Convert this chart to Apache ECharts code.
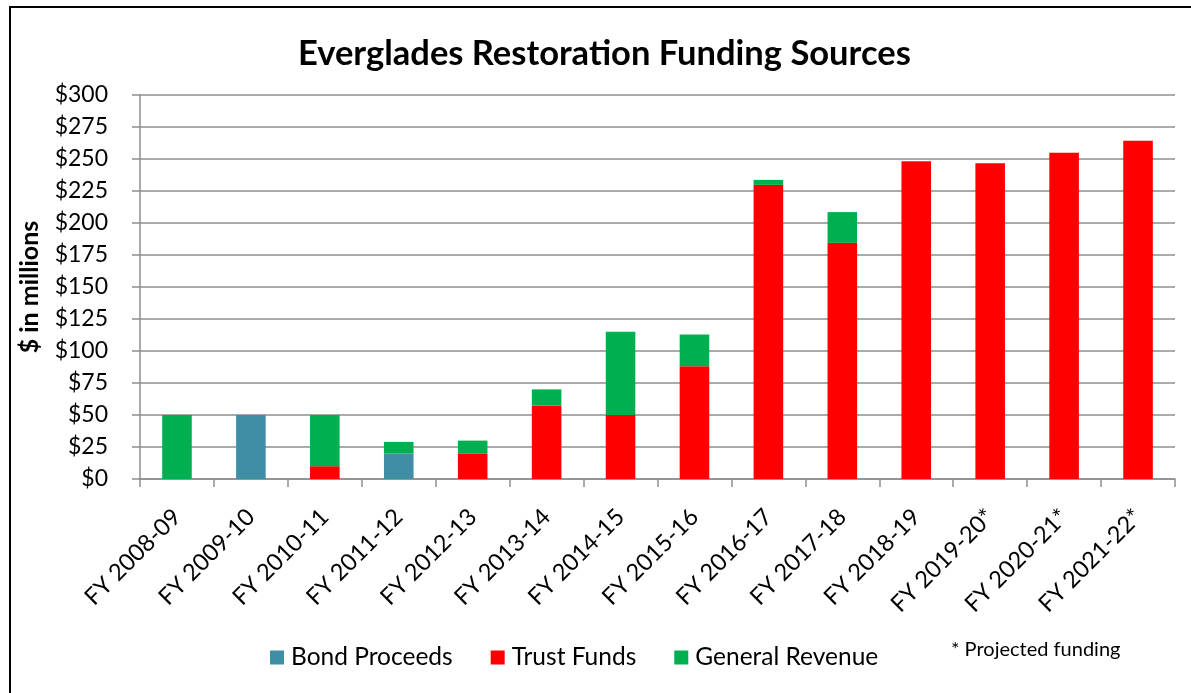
<!DOCTYPE html>
<html>
<head>
<meta charset="utf-8">
<script src="https://cdn.jsdelivr.net/npm/echarts@6/dist/echarts.min.js"></script>
<style>
html,body{margin:0;padding:0;background:#fff;}
#chart{width:1191px;height:693px;}
</style>
</head>
<body>
<div id="chart"></div>
<script>
const categories = ['FY 2008-09','FY 2009-10','FY 2010-11','FY 2011-12','FY 2012-13','FY 2013-14','FY 2014-15','FY 2015-16','FY 2016-17','FY 2017-18','FY 2018-19','FY 2019-20*','FY 2020-21*','FY 2021-22*'];
const bondProceeds   = [0, 50, 0, 20, 0, 0, 0, 0, 0, 0, 0, 0, 0, 0];
const trustFunds     = [0, 0, 10, 0, 20, 57.5, 50, 88, 229.8, 184.5, 248.3, 246.7, 254.8, 264.2];
const generalRevenue = [50, 0, 40, 9, 10, 12.5, 65, 24.8, 3.9, 24, 0, 0, 0, 0];
const yTicks = { min: 0, max: 300, interval: 25 };

const FONT = 'Lato';
const chart = echarts.init(document.getElementById('chart'), null, {renderer: 'canvas'});
const axisGray = '#8e8e8e';
chart.setOption({
  animation: false,
  backgroundColor: '#ffffff',
  textStyle: { fontFamily: FONT, color: '#000' },
  title: {
    text: 'Everglades Restoration Funding Sources',
    left: 293, top: 31,
    textStyle: { fontFamily: FONT, fontWeight: 'bold', fontSize: 34.5, color: '#000' }
  },
  legend: {
    left: 265, top: 640,
    itemWidth: 14, itemHeight: 14, itemGap: 38,
    icon: 'rect',
    textStyle: { fontFamily: FONT, fontSize: 24.5, color: '#000', padding: [0,0,0,2] },
    data: ['Bond Proceeds', 'Trust Funds', 'General Revenue']
  },
  grid: { left: 140, right: 16, top: 95, bottom: 214, containLabel: false, outerBoundsMode: 'none' },
  xAxis: {
    type: 'category',
    data: categories,
    axisLine: { lineStyle: { color: axisGray, width: 1.5 } },
    axisTick: { show: true, length: 8, lineStyle: { color: axisGray, width: 1.5 } },
    axisLabel: { rotate: 45, fontSize: 23.5, color: '#000', margin: 34, interval: 0, fontFamily: FONT }
  },
  yAxis: {
    type: 'value',
    min: yTicks.min, max: yTicks.max, interval: yTicks.interval,
    name: '$ in millions',
    nameLocation: 'middle', nameGap: 98,
    nameTextStyle: { fontFamily: FONT, fontWeight: 'bold', fontSize: 25, color: '#000' },
    axisLine: { show: true, lineStyle: { color: axisGray, width: 1.5 } },
    axisTick: { show: true, length: 8, lineStyle: { color: axisGray, width: 1.5 } },
    axisLabel: { formatter: v => '$' + v, fontSize: 23, color: '#000', margin: 32, fontFamily: FONT },
    splitLine: { show: true, lineStyle: { color: axisGray, width: 1.5 } }
  },
  series: [
    { name: 'Bond Proceeds', type: 'bar', stack: 'total', barWidth: '40%', data: bondProceeds, itemStyle: { color: '#3f8ea5' } },
    { name: 'Trust Funds', type: 'bar', stack: 'total', data: trustFunds, itemStyle: { color: '#ff0000' } },
    { name: 'General Revenue', type: 'bar', stack: 'total', data: generalRevenue, itemStyle: { color: '#00b050' } }
  ],
  graphic: [
    { type: 'rect', shape: { x: 9, y: 6, width: 2, height: 700 }, style: { fill: '#000' }, silent: true },
    { type: 'rect', shape: { x: 9, y: 6, width: 1200, height: 2 }, style: { fill: '#000' }, silent: true },
    { type: 'text', left: 951, top: 640, style: { text: '* Projected funding', font: '20px Lato', fill: '#000' } }
  ]
});
</script>
</body>
</html>
